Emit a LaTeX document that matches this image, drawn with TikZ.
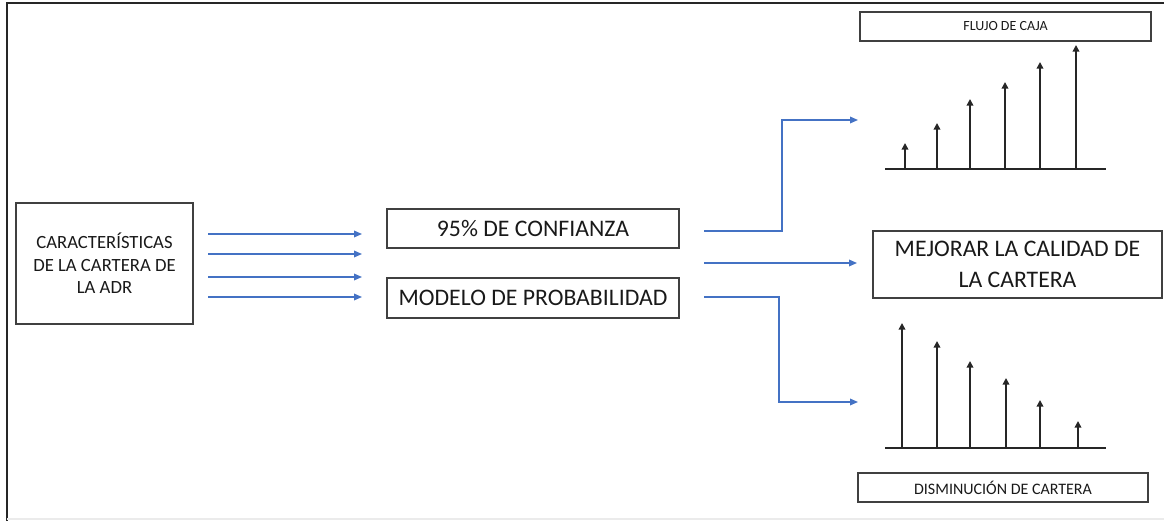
\documentclass[tikz,border=0pt]{standalone}
\usepackage{fontspec}
\setmainfont{Carlito}
\usetikzlibrary{arrows.meta}

\begin{document}
\begin{tikzpicture}[x=0.75pt,y=-0.75pt]
\tikzstyle{every node}+=[inner sep=0pt]
\tikzstyle{caja}=[draw=black!75,line width=1.1pt,align=center,text=black!90]
\tikzstyle{flujo}=[draw={rgb,255:red,68;green,114;blue,196},line width=0.9pt,-{Triangle[length=6pt,width=5pt]}]
\tikzstyle{barra}=[draw=black!85,line width=1.1pt,-{Triangle[length=5pt,width=5pt]}]
\useasboundingbox (0,0) rectangle (1164,521);
% marco
\draw [black!85,line width=2pt] (7,521) -- (7,3) -- (1164,3);
\draw [black!8,line width=1pt] (7,519) -- (1164,519);
% cajas
\node [caja,minimum width=177*0.75pt,minimum height=121*0.75pt,font=\fontsize{14}{16.9}\selectfont] (car) at (104.5,263.5) {CARACTERÍSTICAS\\DE LA CARTERA DE\\LA ADR};
\node [caja,minimum width=292*0.75pt,minimum height=39*0.75pt,font=\fontsize{17.8}{20}\selectfont] (conf) at (533,228.5) {95\% DE CONFIANZA};
\node [caja,minimum width=292*0.75pt,minimum height=40*0.75pt,font=\fontsize{17.8}{20}\selectfont] (mod) at (533,298) {MODELO DE PROBABILIDAD};
\node [caja,minimum width=289*0.75pt,minimum height=67*0.75pt,font=\fontsize{17.8}{23.2}\selectfont] (mej) at (1017.5,264.5) {MEJORAR LA CALIDAD DE\\LA CARTERA};
\node [caja,minimum width=291*0.75pt,minimum height=29*0.75pt,font=\fontsize{10.5}{12}\selectfont] (caja) at (1005.5,26.5) {FLUJO DE CAJA};
\node [caja,minimum width=290*0.75pt,minimum height=29*0.75pt,font=\fontsize{12}{14}\selectfont] (dism) at (1003,487.5) {DISMINUCIÓN DE CARTERA};
% puntos libres
\coordinate (a1) at (208,234); \coordinate (b1) at (362,234);
\coordinate (a2) at (208,254); \coordinate (b2) at (362,254);
\coordinate (a3) at (208,277); \coordinate (b3) at (362,277);
\coordinate (a4) at (208,297); \coordinate (b4) at (362,297);
\coordinate (s1) at (704,231); \coordinate (t1) at (858,120);
\coordinate (s2) at (704,263); \coordinate (t2) at (857,263);
\coordinate (s3) at (704,297); \coordinate (t3) at (858,402);
% flechas
\draw [flujo] (a1) -- (b1);
\draw [flujo] (a2) -- (b2);
\draw [flujo] (a3) -- (b3);
\draw [flujo] (a4) -- (b4);
\draw [flujo] (s1) -| (782,120) -- (t1);
\draw [flujo] (s2) -- (t2);
\draw [flujo] (s3) -| (779,402) -- (t3);
% flujo de caja
\draw [black!85,line width=1.1pt] (885,169) -- (1106,169);
\draw [barra] (905,169) -- (905,143);
\draw [barra] (937,169) -- (937,123);
\draw [barra] (970,169) -- (970,99);
\draw [barra] (1005,169) -- (1005,82);
\draw [barra] (1040,169) -- (1040,62);
\draw [barra] (1076,169) -- (1076,45);
% disminucion de cartera
\draw [black!85,line width=1.1pt] (885,448) -- (1106,448);
\draw [barra] (902,448) -- (902,323);
\draw [barra] (937,448) -- (937,341);
\draw [barra] (970,448) -- (970,361);
\draw [barra] (1006,448) -- (1006,378);
\draw [barra] (1040,448) -- (1040,400);
\draw [barra] (1078,448) -- (1078,421);
\end{tikzpicture}
\end{document}
